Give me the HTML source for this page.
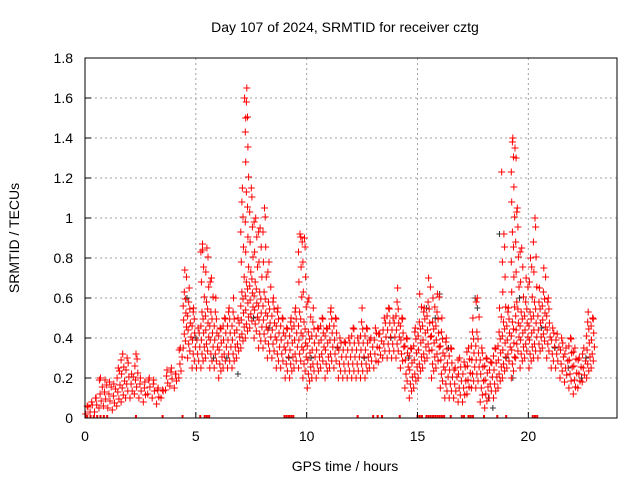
<!DOCTYPE html>
<html><head><meta charset="utf-8"><style>
body{margin:0;background:#fff;width:640px;height:480px;overflow:hidden}
svg{display:block;font-family:"Liberation Sans",sans-serif}
</style></head><body>
<svg id="chart" width="640" height="480">
<text x="345" y="32" font-size="14" text-anchor="middle">Day 107 of 2024, SRMTID for receiver cztg</text>
<text x="345" y="471" font-size="14" text-anchor="middle">GPS time / hours</text>
<text x="19" y="238" font-size="14" text-anchor="middle" transform="rotate(-90 19 238)">SRMTID / TECUs</text>
<g id="grid"></g><g id="marks"></g><g id="axes"></g>
</svg>
<script>
const times=[0.1,0.3,0.5,0.7,0.9,1.1,1.3,1.5,1.7,1.9,2.1,2.3,2.5,2.7,2.9,3.1,3.3,3.5,3.7,3.9,4.1,4.3,4.5,4.7,4.9,5.1,5.3,5.5,5.7,5.9,6.1,6.3,6.5,6.7,6.9,7.1,7.3,7.5,7.7,7.9,8.1,8.3,8.5,8.7,8.9,9.1,9.3,9.5,9.7,9.9,10.1,10.3,10.5,10.7,10.9,11.1,11.3,11.5,11.7,11.9,12.1,12.3,12.5,12.7,12.9,13.1,13.3,13.5,13.7,13.9,14.1,14.3,14.5,14.7,14.9,15.1,15.3,15.5,15.7,15.9,16.1,16.3,16.5,16.7,16.9,17.1,17.3,17.5,17.7,17.9,18.1,18.3,18.5,18.7,18.9,19.1,19.3,19.5,19.7,19.9,20.1,20.3,20.5,20.7,20.9,21.1,21.3,21.5,21.7,21.9,22.1,22.3,22.5,22.7,22.9];
const hiVals=[.06,.08,.10,.20,.19,.18,.17,.25,.32,.30,.22,.32,.20,.18,.20,.19,.15,.14,.24,.25,.22,.35,.74,.65,.55,.45,.87,.85,.70,.60,.45,.50,.55,.60,.50,1.15,1.65,1.15,1.0,.95,1.05,.78,.60,.55,.50,.45,.50,.55,.92,.90,.60,.55,.45,.50,.45,.55,.50,.40,.38,.40,.45,.40,.55,.45,.40,.45,.42,.50,.55,.50,.65,.50,.40,.35,.45,.62,.55,.70,.60,.62,.50,.40,.35,.25,.30,.28,.35,.50,.60,.35,.30,.28,.35,.55,.92,.55,1.4,1.05,.85,.70,.80,1.0,.65,.75,.60,.45,.42,.40,.35,.40,.35,.30,.35,.53,.50];
const loVals=[.02,.03,.03,.05,.06,.05,.04,.06,.08,.10,.10,.12,.10,.08,.12,.10,.07,.10,.14,.16,.15,.20,.35,.30,.25,.25,.25,.30,.25,.25,.20,.25,.25,.25,.30,.35,.40,.45,.40,.35,.35,.30,.30,.25,.25,.20,.20,.25,.25,.20,.15,.20,.20,.25,.20,.25,.25,.20,.20,.20,.20,.20,.20,.20,.25,.25,.28,.30,.30,.30,.30,.25,.15,.10,.15,.20,.25,.30,.20,.25,.15,.10,.10,.10,.08,.08,.12,.15,.15,.08,.05,.10,.10,.15,.20,.25,.20,.30,.25,.30,.25,.30,.30,.35,.30,.25,.25,.20,.18,.15,.12,.15,.18,.20,.25];
const outlierT=[7.2,7.25,18.8,19.4,19.45,20.3,9.8,5.3];
const outlierV=[1.6,1.5,1.23,1.35,1.3,1.0,.88,.84];
const blackT=[4.6,5.0,5.8,6.4,6.9,7.6,8.3,9.2,10.2,11.4,12.6,13.8,14.6,15.4,15.8,16.0,16.4,17.6,17.7,18.2,18.4,18.7,19.0,19.3,19.6,20.6,21.2,21.8,22.4,22.6];
const blackV=[.6,.4,.3,.3,.22,.5,.45,.3,.3,.35,.3,.4,.3,.55,.5,.62,.35,.6,.55,.1,.05,.92,.3,.2,.6,.45,.35,.25,.2,.3];
const zeroT=[0.1,0.25,0.4,0.55,0.7,0.85,1.0,2.3,3.5,4.4,5.2,5.4,5.5,5.6,9.0,9.1,9.2,9.3,9.4,12.3,13.0,13.2,13.4,14.2,15.0,15.1,15.2,15.4,15.5,15.6,15.7,15.8,15.9,16.0,16.1,16.2,16.5,17.0,17.1,17.3,17.4,17.5,18.0,18.6,19.0,20.2,20.3,20.4];
const xTicks=[0,5,10,15,20];
const yTicks=[0,0.2,0.4,0.6,0.8,1,1.2,1.4,1.6,1.8];
const yTickLabels=["0","0.2","0.4","0.6","0.8","1","1.2","1.4","1.6","1.8"];

const L=85,R=617,T=58,B=418,XMAX=24,YMAX=1.8;
const xs=v=>L+v/XMAX*(R-L), ys=v=>B-v/YMAX*(B-T);
const NS="http://www.w3.org/2000/svg";
function mk(tag,attrs,parent){const e=document.createElementNS(NS,tag);for(const k in attrs)e.setAttribute(k,attrs[k]);parent.appendChild(e);return e;}
const grid=document.getElementById('grid'),marks=document.getElementById('marks'),axes=document.getElementById('axes');
xTicks.forEach(t=>{if(t>0){const g=mk('line',{x1:xs(t),x2:xs(t),y1:T,y2:B,stroke:'#a0a0a0','stroke-dasharray':'2,3'},grid);

}
const tx=mk('text',{x:xs(t),y:B+23,'font-size':14,'text-anchor':'middle'},axes);tx.textContent=t;


mk('line',{x1:xs(t),x2:xs(t),y1:B,y2:B-6,stroke:'#000'},axes);});
yTicks.forEach((t,i)=>{if(t>0&&t<YMAX){const g=mk('line',{x1:L,x2:R,y1:ys(t),y2:ys(t),stroke:'#a0a0a0','stroke-dasharray':'2,3'},grid);

}
const tx=mk('text',{x:L-12,y:ys(t)+5,'font-size':14,'text-anchor':'end'},axes);tx.textContent=yTickLabels[i];


mk('line',{x1:L,x2:L+6,y1:ys(t),y2:ys(t),stroke:'#000'},axes);});
let d='';
function plus(x,y){d+=`M${(x-3.5).toFixed(1)} ${y.toFixed(1)}h7M${x.toFixed(1)} ${(y-3.5).toFixed(1)}v7`;}
const jit=[-0.07,0.03,-0.02,0.08,-0.05,0.05];
times.forEach((t,i)=>{let k=0;let v=loVals[i];while(v<=hiVals[i]+0.001){plus(xs(t+jit[k%6]),ys(v));k++;v+=(v<loVals[i]+0.25)?0.035:0.075;}plus(xs(t),ys(hiVals[i]));});
outlierT.forEach((t,i)=>plus(xs(t),ys(outlierV[i])));
let db='';
blackT.forEach((t,i)=>{const x=xs(t),y=ys(blackV[i]);db+=`M${x-3} ${y}h6M${x} ${y-3}v6`;});
const pb=mk('path',{d:db,stroke:'#333',fill:'none','stroke-width':1},marks);


const pr=mk('path',{d:d,stroke:'#f00',fill:'none','stroke-width':1},marks);


let dz='';zeroT.forEach(t=>{dz+=`M${xs(t)} ${B-3}v3`;});
const pz=mk('path',{d:dz,stroke:'#f00','stroke-width':2,fill:'none'},marks);


const fr=mk('rect',{x:L,y:T,width:R-L,height:B-T,fill:'none',stroke:'#000'},axes);


</script>
</body></html>
